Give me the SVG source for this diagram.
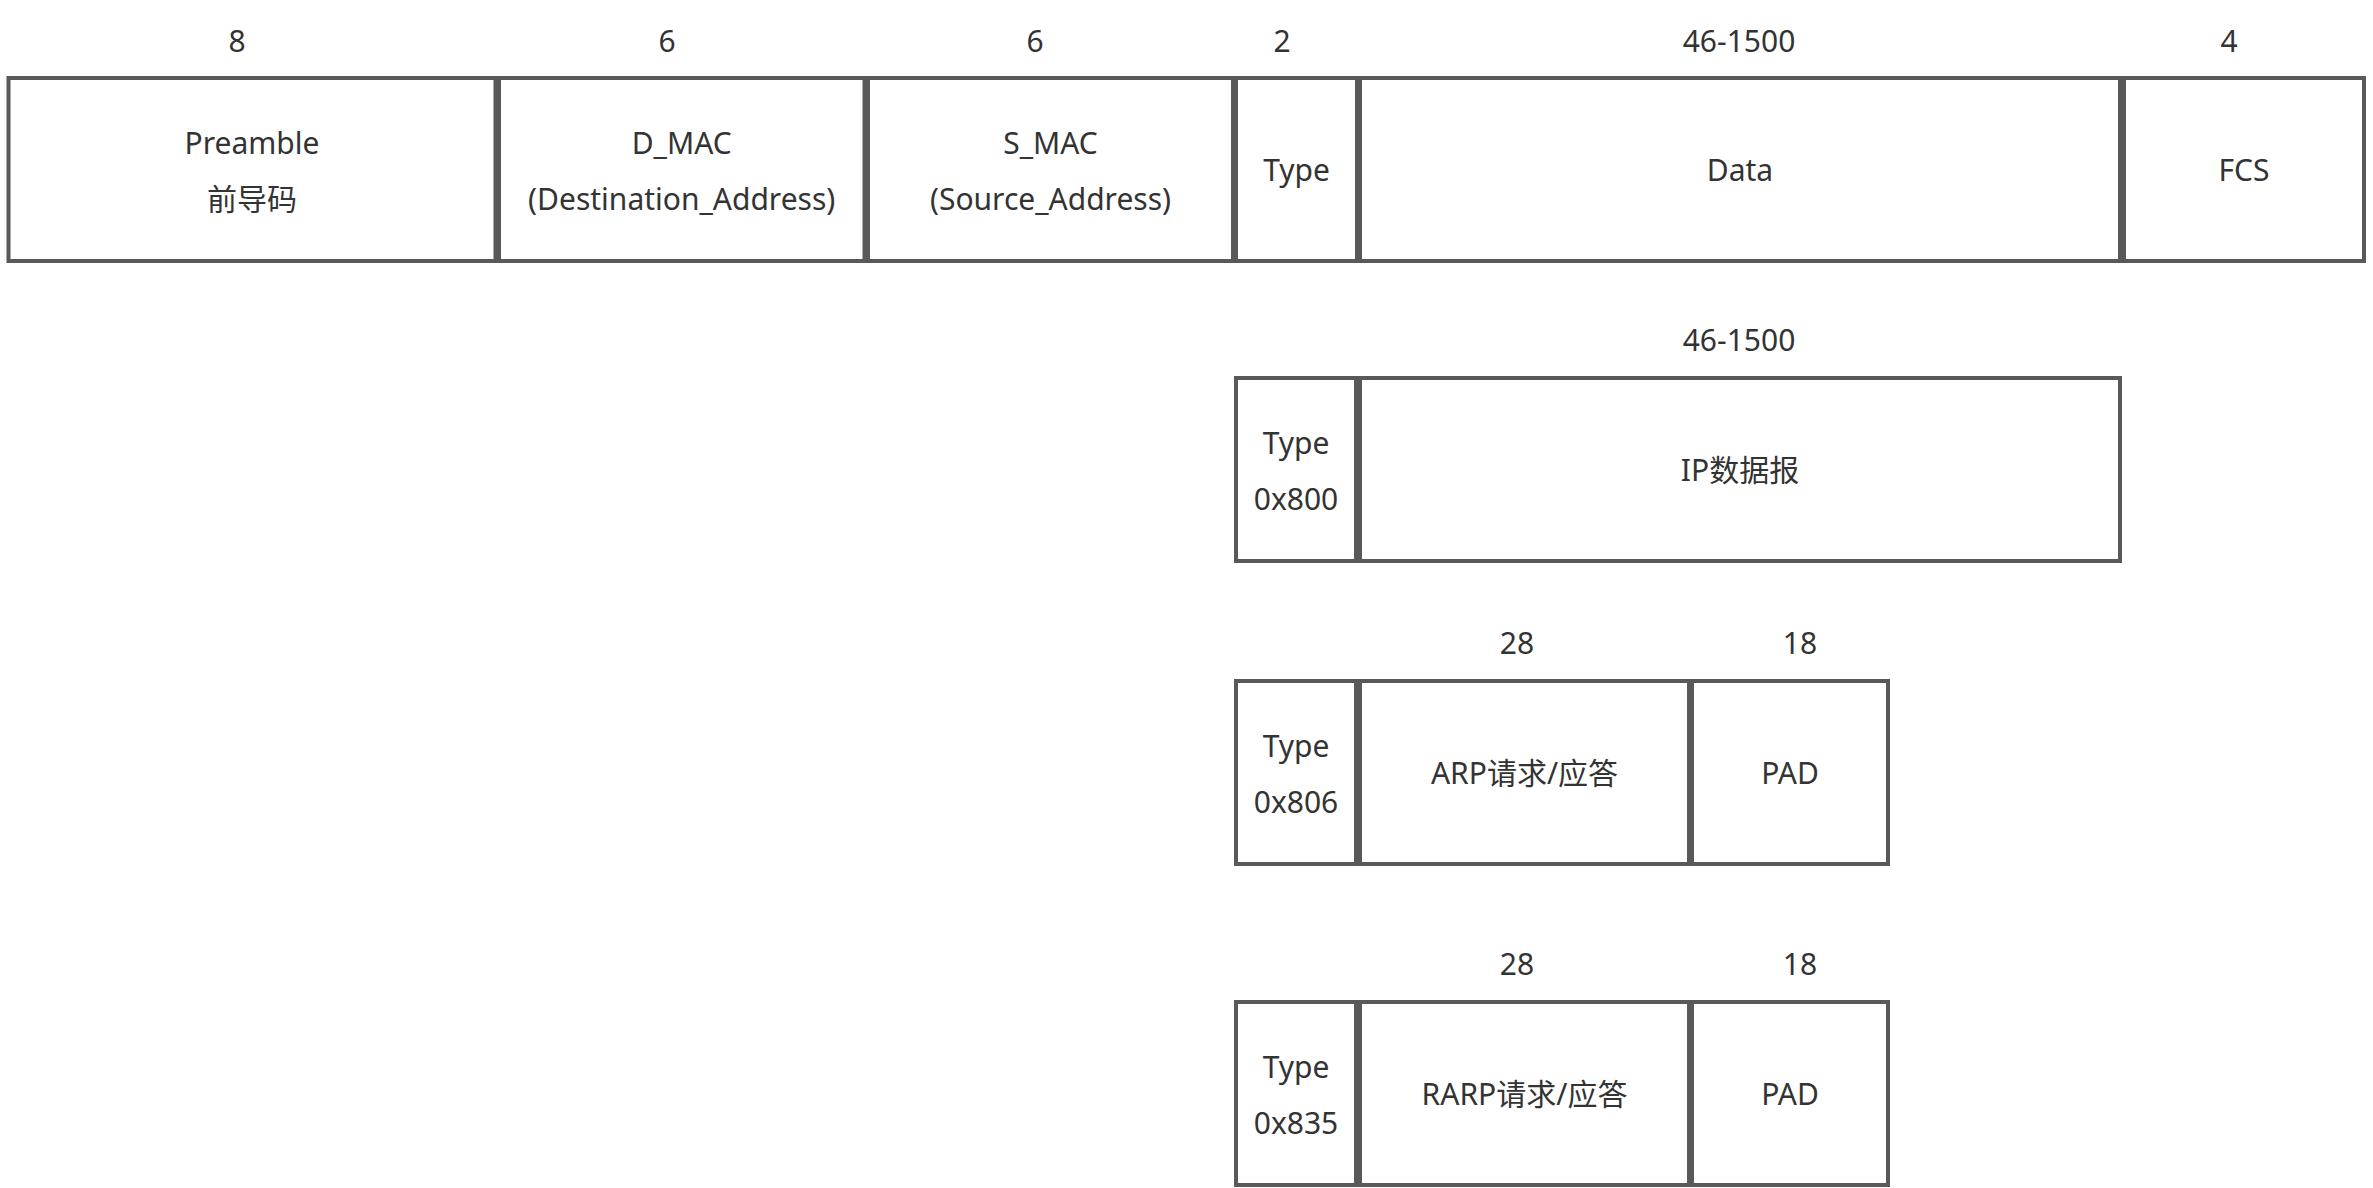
<svg xmlns="http://www.w3.org/2000/svg" width="2373" height="1188" viewBox="0 0 2373 1188">
<style>
.b{fill:#ffffff;stroke:#595959;stroke-width:4}
text{font-family:"Noto Sans","Noto Sans CJK SC",sans-serif;font-size:30px;fill:#333333;text-anchor:middle}
</style>
<rect width="2373" height="1188" fill="#ffffff"/>
<g id="sizes">
<text x="237" y="52">8</text>
<text x="667" y="52">6</text>
<text x="1035" y="52">6</text>
<text x="1282" y="52">2</text>
<text x="1739" y="52">46-1500</text>
<text x="2229" y="52">4</text>
<text x="1739" y="351">46-1500</text>
<text x="1517" y="654">28</text>
<text x="1800" y="654">18</text>
<text x="1517" y="975">28</text>
<text x="1800" y="975">18</text>
</g>
<g id="preamble"><rect class="b" x="8.5" y="78" width="487" height="183"/><text x="252" y="153.5">Preamble</text><text x="252" y="209.5">前导码</text></g>
<g id="dmac"><rect class="b" x="499" y="78" width="365.5" height="183"/><text x="681.7" y="153.5">D_MAC</text><text x="681.7" y="209.5">(Destination_Address)</text></g>
<g id="smac"><rect class="b" x="868" y="78" width="365" height="183"/><text x="1050.5" y="153.5">S_MAC</text><text x="1050.5" y="209.5">(Source_Address)</text></g>
<g id="type"><rect class="b" x="1236" y="78" width="121" height="183"/><text x="1296.5" y="181">Type</text></g>
<g id="data"><rect class="b" x="1360" y="78" width="760" height="183"/><text x="1740" y="181">Data</text></g>
<g id="fcs"><rect class="b" x="2124" y="78" width="240" height="183"/><text x="2244" y="181">FCS</text></g>
<g id="type800"><rect class="b" x="1236" y="378" width="120" height="183"/><text x="1296" y="454">Type</text><text x="1296" y="509.5">0x800</text></g>
<g id="ip"><rect class="b" x="1360" y="378" width="760" height="183"/><text x="1740" y="481">IP数据报</text></g>
<g id="type806"><rect class="b" x="1236" y="681" width="120" height="183"/><text x="1296" y="757">Type</text><text x="1296" y="812.5">0x806</text></g>
<g id="arp"><rect class="b" x="1360" y="681" width="329" height="183"/><text x="1524.5" y="784">ARP请求/应答</text></g>
<g id="pad1"><rect class="b" x="1692" y="681" width="196" height="183"/><text x="1790" y="784">PAD</text></g>
<g id="type835"><rect class="b" x="1236" y="1002" width="120" height="183"/><text x="1296" y="1078">Type</text><text x="1296" y="1133.5">0x835</text></g>
<g id="rarp"><rect class="b" x="1360" y="1002" width="329" height="183"/><text x="1524.5" y="1105">RARP请求/应答</text></g>
<g id="pad2"><rect class="b" x="1692" y="1002" width="196" height="183"/><text x="1790" y="1105">PAD</text></g>
<g id="connectors"></g>
</svg>
